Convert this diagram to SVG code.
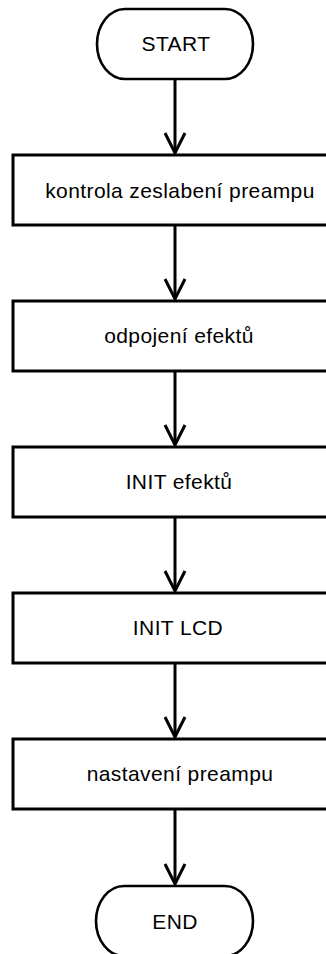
<svg xmlns="http://www.w3.org/2000/svg" width="326" height="954" viewBox="0 0 326 954">
<style>
.box{fill:#fff;stroke:#000;stroke-width:3}
.term{fill:#fff;stroke:#000;stroke-width:2.6}
.lbl{font-family:"Liberation Sans",Arial,sans-serif;font-size:21px;letter-spacing:0.4px;fill:#000;text-anchor:middle}
.con{stroke:#000;stroke-width:3;fill:none}
.head{stroke:#000;stroke-width:3;fill:none;stroke-linejoin:miter}
</style>
<rect width="326" height="954" fill="#fff"/>
<g id="connectors">
<line class="con" x1="175" y1="79" x2="175" y2="153"/>
<polyline class="head" points="165,133 175,153 185,133"/>
<line class="con" x1="175" y1="225" x2="175" y2="299"/>
<polyline class="head" points="165,279 175,299 185,279"/>
<line class="con" x1="175" y1="371" x2="175" y2="445"/>
<polyline class="head" points="165,425 175,445 185,425"/>
<line class="con" x1="175" y1="517" x2="175" y2="591"/>
<polyline class="head" points="165,571 175,591 185,571"/>
<line class="con" x1="175" y1="663" x2="175" y2="737"/>
<polyline class="head" points="165,717 175,737 185,717"/>
<line class="con" x1="175" y1="809" x2="175" y2="884"/>
<polyline class="head" points="165,864 175,884 185,864"/>
</g>
<g id="start">
<rect class="term" x="97" y="9" width="156" height="70" rx="28" ry="35"/>
<text class="lbl" x="176" y="51">START</text>
</g>
<g id="kontrola">
<rect class="box" x="13" y="155" width="340" height="70"/>
<text class="lbl" x="180" y="198">kontrola zeslabení preampu</text>
</g>
<g id="odpojeni">
<rect class="box" x="13" y="301" width="340" height="70"/>
<text class="lbl" x="179" y="343">odpojení efektů</text>
</g>
<g id="init-efektu">
<rect class="box" x="13" y="447" width="340" height="70"/>
<text class="lbl" x="179" y="489">INIT efektů</text>
</g>
<g id="init-lcd">
<rect class="box" x="13" y="593" width="340" height="70"/>
<text class="lbl" x="178" y="635">INIT LCD</text>
</g>
<g id="nastaveni">
<rect class="box" x="13" y="739" width="340" height="70"/>
<text class="lbl" x="180" y="781">nastavení preampu</text>
</g>
<g id="end">
<rect class="term" x="96" y="886" width="157" height="70" rx="28" ry="35"/>
<text class="lbl" x="175" y="929">END</text>
</g>
</svg>
